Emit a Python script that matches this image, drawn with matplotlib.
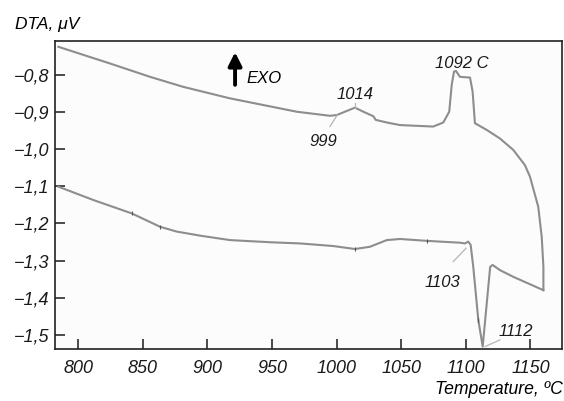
import numpy as np
import matplotlib
matplotlib.use("Agg")
import matplotlib.pyplot as plt

plt.rcParams['font.family'] = ['Liberation Sans', 'DejaVu Sans']
plt.rcParams['font.style'] = 'italic'

# heating run (upper trace), temperature in C and signal in microvolts
heat_T = [784.6, 824.6, 855.6, 881.3, 917.5, 943.3, 969.1, 994.9, 1000.1,
          1014.2, 1020.7, 1028.4, 1030.3, 1038.8, 1049.1, 1074.8, 1082.6,
          1087.2, 1089.1, 1090.9, 1092.4, 1095.5, 1103.3, 1105.3, 1107.1,
          1116.2, 1126.4, 1136.8, 1145.8, 1149.7, 1156.1, 1158.8, 1160.1,
          1160.1]
heat_V = [-0.724, -0.769, -0.805, -0.832, -0.863, -0.881, -0.899, -0.910, -0.908,
          -0.888, -0.899, -0.911, -0.921, -0.928, -0.935, -0.939, -0.928,
          -0.899, -0.827, -0.791, -0.789, -0.805, -0.807, -0.845, -0.930,
          -0.948, -0.971, -1.002, -1.043, -1.074, -1.155, -1.236, -1.317,
          -1.380]

# cooling run (lower trace), listed from high to low temperature
cool_T = [1160.1, 1136.8, 1126.5, 1120.8, 1118.9, 1113.1, 1109.7, 1105.8,
          1103.8, 1101.9, 1099.4, 1095.5, 1080.0, 1069.7, 1049.1, 1038.8,
          1025.8, 1014.2, 997.4, 971.7, 950.0, 917.5, 894.3, 876.2, 863.3,
          841.4, 811.7, 784.6]
cool_V = [-1.380, -1.344, -1.326, -1.312, -1.317, -1.532, -1.460, -1.317,
          -1.258, -1.249, -1.254, -1.252, -1.249, -1.247, -1.242, -1.245,
          -1.263, -1.269, -1.261, -1.254, -1.251, -1.245, -1.233, -1.222, -1.209,
          -1.173, -1.137, -1.101]

# small instrument marks along the cooling trace
mark_T = [841.4, 863.3, 1014.2, 1069.7, 1109.7]
mark_V = [-1.173, -1.209, -1.269, -1.247, -1.460]

x_ticks = [800, 850, 900, 950, 1000, 1050, 1100, 1150]
y_ticks = [-0.8, -0.9, -1.0, -1.1, -1.2, -1.3, -1.4, -1.5]
y_labels = ['\u22120,8', '\u22120,9', '\u22121,0', '\u22121,1',
            '\u22121,2', '\u22121,3', '\u22121,4', '\u22121,5']

# peak labels: text, text position, leader line (x0, y0, x1, y1)
peak_text = ['999', '1014', '1092 C', '1103', '1112']
peak_pos = [(989.7, -0.978), (1014.2, -0.852), (1096.7, -0.770),
            (1082.2, -1.358), (1138.9, -1.490)]
peak_lead = [(994.9, -0.939, 1000.5, -0.908), (1014.2, -0.876, 1014.2, -0.888),
             None, (1090.3, -1.303, 1100.2, -1.267),
             (1114.9, -1.532, 1126.5, -1.514)]

fig = plt.figure(figsize=(5.64, 4.01), dpi=100)
ax = fig.add_axes([55 / 564, 1 - 349 / 401, 507 / 564, 308 / 401])
ax.set_facecolor('#fcfcfc')

line_col = '#8d8d8d'
ax.plot(heat_T, heat_V, color=line_col, lw=1.5, solid_joinstyle='round')
ax.plot(cool_T, cool_V, color=line_col, lw=1.5, solid_joinstyle='round')
ax.plot(mark_T, mark_V, ls='none', marker='|', ms=3, color='#555555', mew=0.8)

for txt, (tx, ty), lead in zip(peak_text, peak_pos, peak_lead):
    if lead is not None:
        ax.plot([lead[0], lead[2]], [lead[1], lead[3]], color='#b5b5b5', lw=0.9)
    ax.text(tx, ty, txt, fontsize=12, ha='center', va='center', color='#1a1a1a')

# exotherm direction arrow
ax.annotate('', xy=(921.4, -0.731), xytext=(921.4, -0.834),
            arrowprops=dict(arrowstyle='-|>', lw=2.8, color='black',
                            mutation_scale=20))
ax.text(930.2, -0.809, 'EXO', fontsize=12, ha='left', va='center')

ax.set_xlim(782.0, 1174.5)
ax.set_ylim(-1.5385, -0.7084)
ax.set_xticks(x_ticks)
ax.set_yticks(y_ticks)
ax.set_yticklabels(y_labels)
ax.tick_params(direction='in', length=7, width=1.1, labelsize=13,
               colors='#1a1a1a')
ax.tick_params(axis='x', pad=8)
ax.tick_params(axis='y', pad=4)
for s in ax.spines.values():
    s.set_linewidth(1.2)
    s.set_color('#222222')

fig.text(15 / 564, 1 - 24 / 401, 'DTA, \u03bcV', fontsize=12.5, ha='left', va='center')
fig.text(563 / 564, 1 - 390 / 401, 'Temperature, \u00baC', fontsize=12.7,
         ha='right', va='center')

fig.savefig('out.png', dpi=100)
